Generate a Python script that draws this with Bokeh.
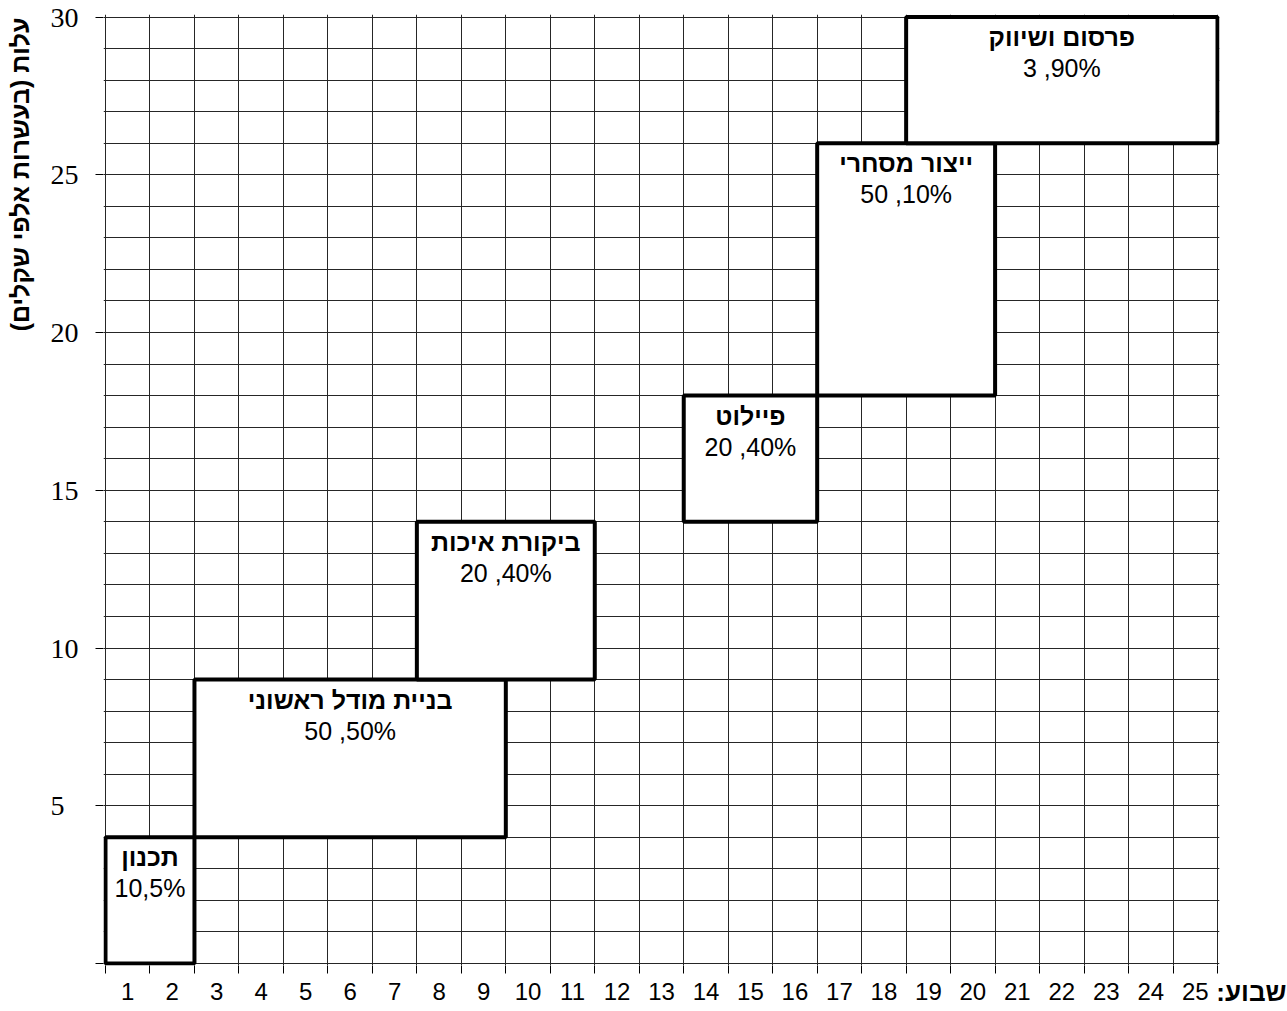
import math
from bokeh.plotting import figure
from bokeh.layouts import row
from bokeh.models import Range1d, FixedTicker, ColumnDataSource, CustomJSTickFormatter, Title
from bokeh.embed import file_html
from bokeh.resources import INLINE
from bokeh.core.properties import value

# ---- data ----
stages = ["תכנון", "בניית מודל ראשוני", "ביקורת איכות", "פיילוט", "ייצור מסחרי", "פרסום ושיווק"]
week_start = [0, 2, 7, 13, 16, 18]
week_end = [2, 9, 11, 16, 20, 25]
cost_low = [0, 4, 9, 14, 18, 26]
cost_high = [4, 9, 14, 18, 26, 30]
stage_notes = ["10,5%", "50 ,50%", "20 ,40%", "20 ,40%", "50 ,10%", "3 ,90%"]
week_labels = [str(i) for i in range(1, 26)]
cost_ticks = [0, 5, 10, 15, 20, 25, 30]
cost_tick_labels = ["", "5\u2007", "10", "15", "20", "25", "30"]
y_title = "עלות (בעשרות אלפי שקלים)\u200f"
x_title = "שבוע:\u200f"

n_weeks = 25
max_cost = 30

src = ColumnDataSource(dict(
    left=week_start, right=week_end, bottom=cost_low, top=cost_high,
    xc=[(a + b) / 2 for a, b in zip(week_start, week_end)],
    name=stages, note=stage_notes,
))

H = 1011
TOTAL_W = 1287
LEFT_W = 38
MAIN_W = TOTAL_W - LEFT_W

# ---- left strip holding the vertical axis title ----
lt = figure(width=LEFT_W, height=H, x_range=Range1d(0, LEFT_W), y_range=Range1d(0, H),
            x_axis_type=None, y_axis_type=None, output_backend="svg", toolbar_location=None,
            min_border=0, min_border_left=0, min_border_right=0, min_border_top=0, min_border_bottom=0)
lt.grid.visible = False
lt.outline_line_color = None
lt.background_fill_color = "white"
lt.border_fill_color = "white"
lt.text(x=[19], y=[H - 170], text=[y_title], angle=math.pi / 2,
        text_align="center", text_baseline="middle",
        text_font=value("Liberation Sans"), text_font_style="bold",
        text_font_size="25px", text_color="black")

# ---- main chart ----
FRAME_L, FRAME_R, FRAME_T, FRAME_B = 103, 1219, 14, 965
xpad = 2 / 44.48
ypad_b = 2 / 31.55
ypad_t = 2.5 / 31.55
p = figure(width=MAIN_W, height=H,
           x_range=Range1d(-xpad, n_weeks + xpad), y_range=Range1d(-ypad_b, max_cost + ypad_t),
           output_backend="svg", toolbar_location=None,
           min_border_left=FRAME_L - LEFT_W, min_border_right=TOTAL_W - FRAME_R,
           min_border_top=FRAME_T, min_border_bottom=H - FRAME_B)
p.background_fill_color = "white"
p.border_fill_color = "white"
p.outline_line_color = None

# grid
p.xgrid[0].ticker = FixedTicker(ticks=list(range(n_weeks + 1)))
p.ygrid[0].ticker = FixedTicker(ticks=list(range(max_cost + 1)))
p.grid.grid_line_color = "#262626"
p.grid.grid_line_width = 1

# x axis
xa = p.xaxis[0]
xa.ticker = FixedTicker(ticks=[i + 0.5 for i in range(n_weeks)], minor_ticks=list(range(n_weeks + 1)))
xa.formatter = CustomJSTickFormatter(args=dict(wl=week_labels),
                                     code="return wl[Math.floor(tick)];")
xa.major_tick_out = 0
xa.major_tick_in = 0
xa.minor_tick_out = 8
xa.minor_tick_in = 0
xa.minor_tick_line_color = "black"
xa.axis_line_color = None
xa.major_label_text_font = "Liberation Sans"
xa.major_label_text_font_size = "24px"
xa.major_label_text_color = "black"
xa.major_label_standoff = 9

# y axis
ya = p.yaxis[0]
ya.ticker = FixedTicker(ticks=cost_ticks, minor_ticks=[])
ya.formatter = CustomJSTickFormatter(args=dict(cl=cost_tick_labels, cv=cost_ticks),
                                     code="return cl[cv.indexOf(tick)];")
ya.major_tick_out = 8
ya.major_tick_in = 0
ya.minor_tick_out = 0
ya.minor_tick_in = 0
ya.major_tick_line_color = "black"
ya.axis_line_color = None
ya.major_label_text_font = "Liberation Serif"
ya.major_label_text_font_size = "28px"
ya.major_label_text_color = "black"
ya.major_label_standoff = 17

# boxes
p.quad(left="left", right="right", bottom="bottom", top="top", source=src,
       fill_color="white", line_color="black", line_width=4)

p.text(x="xc", y="top", text="name", source=src, y_offset=20,
       text_align="center", text_baseline="middle",
       text_font=value("Liberation Sans"), text_font_style="bold",
       text_font_size="25px", text_color="black")
p.text(x="xc", y="top", text="note", source=src, y_offset=51,
       text_align="center", text_baseline="middle",
       text_font=value("Liberation Sans"),
       text_font_size="25px", text_color="black")

# x-axis word, placed in the bottom panel next to the last week label
p.add_layout(Title(text=x_title, align="right", vertical_align="top",
                   offset=-67, standoff=-52,
                   text_font="Liberation Sans", text_font_style="bold",
                   text_font_size="26px", text_color="black"), "below")

layout = row(lt, p, spacing=0)
open("out.html", "w").write(file_html(layout, INLINE))
